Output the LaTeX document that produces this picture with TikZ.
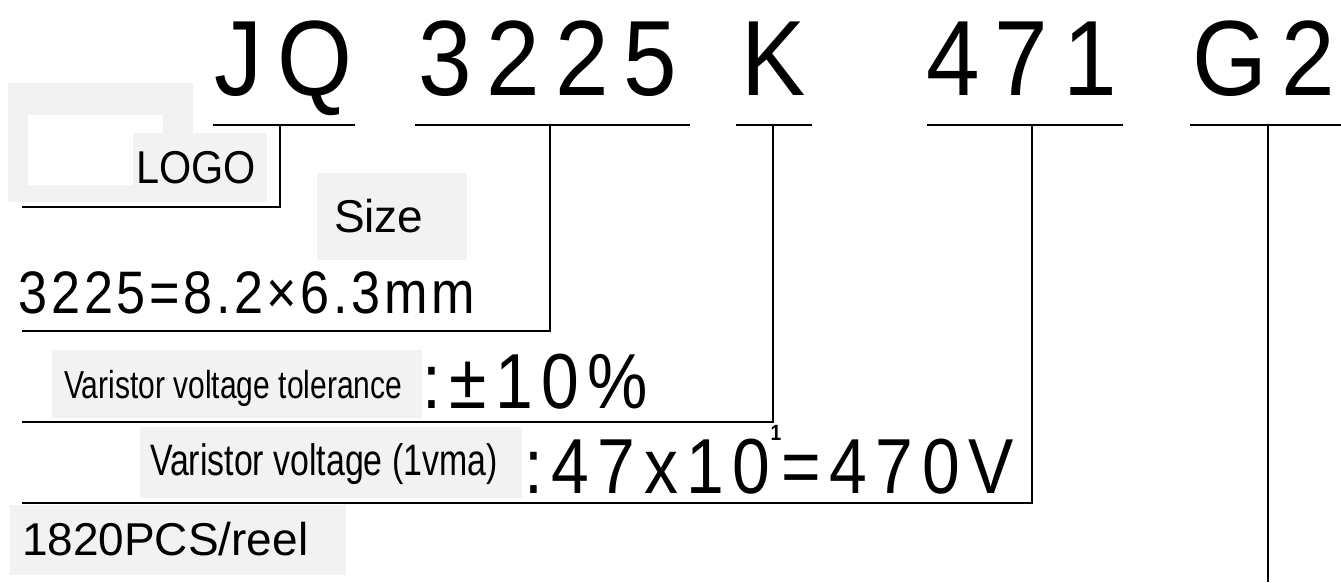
\documentclass[tikz,border=0pt]{standalone}
\usepackage{fontspec}
\setmainfont{Liberation Sans}
\newfontfamily\topfont[FakeStretch=0.9,LetterSpace=14]{Liberation Sans}
\newfontfamily\bigfont[FakeStretch=0.87,LetterSpace=6]{Liberation Sans}
\newfontfamily\valfont[FakeStretch=0.87,LetterSpace=11]{Liberation Sans}
\newfontfamily\condfont[FakeStretch=0.77]{Liberation Sans}
\newfontfamily\logofont[FakeStretch=0.9]{Liberation Sans}
\definecolor{boxgray}{HTML}{F2F2F2}
\begin{document}
\begin{tikzpicture}[x=1pt,y=-1pt,
  graybox/.style={fill=boxgray,draw=none,inner sep=0pt,outer sep=0pt,anchor=north west},
  lbl/.style={anchor=base west,inner sep=0pt,outer sep=0pt},
  conn/.style={line width=1.8pt,black}]
\useasboundingbox (0,0) rectangle (1341,582);
\fill[white] (0,0) rectangle (1341,582);

% background boxes
\node[graybox,minimum width=185pt,minimum height=119pt] (logobg) at (8,83) {};
\node[graybox,fill=white,minimum width=135pt,minimum height=70pt] (logowhite) at (28,115) {};
\node[graybox,minimum width=134pt,minimum height=69pt] (logobox) at (133,133) {};
\node[graybox,minimum width=150pt,minimum height=87pt] (sizebox) at (317,173) {};
\node[graybox,minimum width=370pt,minimum height=68pt] (tolbox) at (52,350) {};
\node[graybox,minimum width=382pt,minimum height=71pt] (vbox) at (140,427) {};
\node[graybox,minimum width=336pt,minimum height=70pt] (pcsbox) at (10,505) {};

% top code
\node[lbl] (jq) at (214,95) {\topfont\fontsize{107}{107}\selectfont JQ};
\node[lbl] (sz) at (418,95) {\topfont\fontsize{107}{107}\selectfont 3225};
\node[lbl] (k) at (741,95) {\topfont\fontsize{107}{107}\selectfont K};
\node[lbl] (v) at (926,95) {\topfont\fontsize{107}{107}\selectfont 471};
\node[lbl] (g) at (1192,95) {\topfont\fontsize{107}{107}\selectfont G2};

% labels
\node[lbl] (logo) at (136,183) {\logofont\fontsize{46}{46}\selectfont LOGO};
\node[lbl] (size) at (334,232) {\fontsize{46}{46}\selectfont Size};
\node[lbl] (sizeval) at (19,313) {\bigfont\fontsize{60}{60}\selectfont 3225=8.2×6.3mm};
\node[lbl] (tol) at (64,398) {\condfont\fontsize{39}{39}\selectfont Varistor voltage tolerance};
\node[lbl] (tolval) at (422,408) {\valfont\fontsize{78}{78}\selectfont :±10\%};
\node[lbl] (volt) at (150,475) {\condfont\fontsize{44}{44}\selectfont Varistor voltage (1vma)};
\node[lbl] (voltval) at (524,493) {\valfont\fontsize{78}{78}\selectfont :47x10\raisebox{53pt}{\bfseries\fontsize{22}{22}\selectfont 1}=470V};
\node[lbl] (pcs) at (22,555) {\fontsize{46}{46}\selectfont 1820PCS/reel};

% connectors
\coordinate (u1a) at (213,125); \coordinate (u1b) at (355,125);
\coordinate (c1) at (280,125); \coordinate (e1) at (22,207);
\coordinate (u2a) at (415,125); \coordinate (u2b) at (690,125);
\coordinate (c2) at (550,125); \coordinate (e2) at (22,331);
\coordinate (u3a) at (736,125); \coordinate (u3b) at (812,125);
\coordinate (c3) at (773,125); \coordinate (e3) at (22,422);
\coordinate (u4a) at (927,125); \coordinate (u4b) at (1123,125);
\coordinate (c4) at (1032,125); \coordinate (e4) at (22,503);
\coordinate (u5a) at (1190,125); \coordinate (u5b) at (1341,125);
\coordinate (c5) at (1268,125); \coordinate (e5) at (1268,582);

\draw[conn] (u1a) -- (u1b);
\draw[conn] (c1) |- (e1);
\draw[conn] (u2a) -- (u2b);
\draw[conn] (c2) |- (e2);
\draw[conn] (u3a) -- (u3b);
\draw[conn] (c3) |- (e3);
\draw[conn] (u4a) -- (u4b);
\draw[conn] (c4) |- (e4);
\draw[conn] (u5a) -- (u5b);
\draw[conn] (c5) -- (e5);
\end{tikzpicture}
\end{document}
